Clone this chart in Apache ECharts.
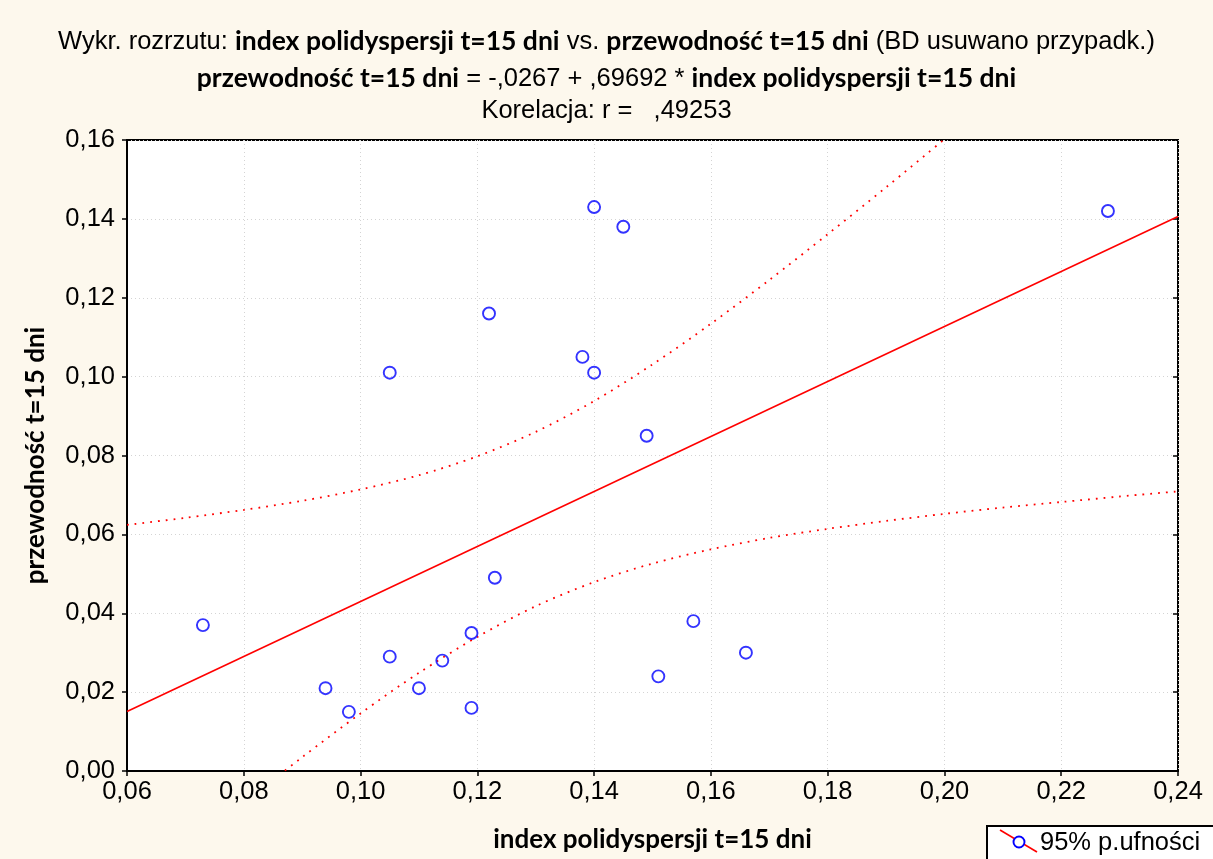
<!DOCTYPE html>
<html>
<head>
<meta charset="utf-8">
<script type="text/javascript" src="https://cdn.jsdelivr.net/npm/echarts@6/dist/echarts.min.js"></script>
<style>
html,body{margin:0;padding:0;background:#fdf8ed;}
#myChartScatter{width:1213px;height:859px;}
</style>
</head>
<body>
<div id="myChartScatter"></div>
<script type="text/javascript">
// dane
var indexPD = [0.073,0.094,0.098,0.105,0.105,0.110,0.114,0.119,0.119,0.122,0.123,0.138,0.140,0.140,0.145,0.149,0.151,0.157,0.166,0.228];
var przewodnosc = [0.037,0.021,0.015,0.101,0.029,0.021,0.028,0.035,0.016,0.116,0.049,0.105,0.143,0.101,0.138,0.085,0.024,0.038,0.030,0.142];

// linia regresji (koncowe punkty)
var regX = [0.06,0.24];
var regY = [0.0151,0.1406];

// przedzial ufnosci 95%
var bandX = [0.06,0.07,0.08,0.09,0.10,0.11,0.12,0.13,0.14,0.15,0.16,0.17,0.18,0.19,0.20,0.21,0.22,0.23,0.24];
var bandUpper = [0.0624,0.0642,0.0662,0.0685,0.0714,0.0750,0.0798,0.0860,0.0938,0.1031,0.1134,0.1245,0.1361,0.1480,0.1602,0.1725];
var bandLower = [-0.0322,-0.0200,-0.0081,0.0035,0.0146,0.0249,0.0340,0.0418,0.0479,0.0526,0.0562,0.0591,0.0614,0.0634,0.0652,0.0668,0.0682,0.0696,0.0709];

var xTicks = {min:0.06,max:0.24,interval:0.02};
var yTicks = {min:0,max:0.16,interval:0.02};

function pairs(xs,ys){
    var arr = [];
    for(var i = 0;i<ys.length;i++){
        arr.push([xs[i],ys[i]]);
    }
    return arr;
}
function fmt(v){
    return v.toFixed(2).replace('.',',');
}

var myChart = echarts.init(document.getElementById('myChartScatter'));

var regular = 'Liberation Sans';
var bold = 'Lato';
var richStyle = {
    r:{fontFamily:regular,fontWeight:'normal',fontSize:25.5,color:'#000'},
    b:{fontFamily:bold,fontWeight:'bold',fontSize:26.5,color:'#000'}
};

var option = {
    backgroundColor:'#fdf8ed',
    animation:false,
    title:[
        {
            left:'center',
            top:23,
            text:'{r|Wykr. rozrzutu: }{b|index polidyspersji t=15 dni}{r| vs. }{b|przewodność t=15 dni}{r| (BD usuwano przypadk.)}',
            textStyle:{fontWeight:'normal',rich:richStyle}
        },
        {
            left:'center',
            top:60,
            text:'{b|przewodność t=15 dni}{r| = -,0267 + ,69692 * }{b|index polidyspersji t=15 dni}',
            textStyle:{fontWeight:'normal',rich:richStyle}
        },
        {
            left:'center',
            top:93,
            text:'Korelacja: r =   ,49253',
            textStyle:{fontFamily:regular,fontSize:25.5,fontWeight:'normal',color:'#000'}
        }
    ],
    grid:{
        left:127,
        right:35,
        top:140,
        bottom:88,
        show:true,
        backgroundColor:'#fff',
        borderColor:'#000',
        borderWidth:2
    },
    xAxis:[
        {
            type:'value',
            min:xTicks.min,
            max:xTicks.max,
            interval:xTicks.interval,
            name:'index polidyspersji t=15 dni',
            nameLocation:'middle',
            nameGap:56,
            nameTextStyle:{fontFamily:bold,fontWeight:'bold',fontSize:26,color:'#000'},
            axisLine:{show:true,lineStyle:{color:'#000',width:2}},
            axisTick:{show:true,length:5,lineStyle:{color:'#000',width:1.5}},
            axisLabel:{formatter:fmt,fontFamily:regular,fontSize:25.5,color:'#000',margin:8},
            splitLine:{show:true,lineStyle:{color:'#d4d4d4',type:[1,3],width:1}}
        },
        {
            type:'value',
            position:'top',
            min:xTicks.min,
            max:xTicks.max,
            interval:xTicks.interval,
            axisLine:{show:false},
            axisTick:{show:true,inside:true,length:5,lineStyle:{color:'#000',width:1.5}},
            axisLabel:{show:false},
            splitLine:{show:false}
        }
    ],
    yAxis:[
        {
            type:'value',
            min:yTicks.min,
            max:yTicks.max,
            interval:yTicks.interval,
            name:'przewodność t=15 dni',
            nameLocation:'middle',
            nameGap:78,
            nameTextStyle:{fontFamily:bold,fontWeight:'bold',fontSize:26,color:'#000'},
            axisLine:{show:true,lineStyle:{color:'#000',width:2}},
            axisTick:{show:true,length:5,lineStyle:{color:'#000',width:1.5}},
            axisLabel:{formatter:fmt,fontFamily:regular,fontSize:25.5,color:'#000',margin:12},
            splitLine:{show:true,lineStyle:{color:'#d4d4d4',type:[1,3],width:1}}
        },
        {
            type:'value',
            position:'right',
            min:yTicks.min,
            max:yTicks.max,
            interval:yTicks.interval,
            axisLine:{show:false},
            axisTick:{show:true,inside:true,length:5,lineStyle:{color:'#000',width:1.5}},
            axisLabel:{show:false},
            splitLine:{show:false}
        }
    ],
    series:[
        {
            name:'upper',
            type:'line',
            data:pairs(bandX,bandUpper),
            showSymbol:false,
            smooth:0.3,
            clip:true,
            lineStyle:{color:'#ff0000',width:1.8,type:[1.8,6]},
            z:3
        },
        {
            name:'lower',
            type:'line',
            data:pairs(bandX,bandLower),
            showSymbol:false,
            smooth:0.3,
            clip:true,
            lineStyle:{color:'#ff0000',width:1.8,type:[1.8,6]},
            z:3
        },
        {
            name:'regresja',
            type:'line',
            data:pairs(regX,regY),
            showSymbol:false,
            clip:true,
            lineStyle:{color:'#ff0000',width:1.6},
            z:3
        },
        {
            name:'dane',
            type:'scatter',
            data:pairs(indexPD,przewodnosc),
            symbol:'circle',
            symbolSize:12,
            itemStyle:{color:'rgba(255,255,255,0)',borderColor:'#0000ff',borderWidth:1.9},
            z:4
        }
    ],
    // legenda jak w oryginale
    graphic:[
        {
            type:'rect',
            shape:{x:987,y:826,width:240,height:40},
            style:{fill:'#fff',stroke:'#000',lineWidth:2}
        },
        {
            type:'line',
            shape:{x1:1000,y1:830,x2:1037,y2:852},
            style:{stroke:'#ff0000',lineWidth:1.6}
        },
        {
            type:'circle',
            shape:{cx:1019,cy:842,r:5.5},
            style:{fill:'#fff',stroke:'#0000ff',lineWidth:1.9}
        },
        {
            type:'text',
            x:1040,
            y:843,
            style:{text:'95% p.ufności',font:'25.5px "Liberation Sans"',fill:'#000',verticalAlign:'middle'}
        }
    ]
};
myChart.setOption(option);
</script>
</body>
</html>
